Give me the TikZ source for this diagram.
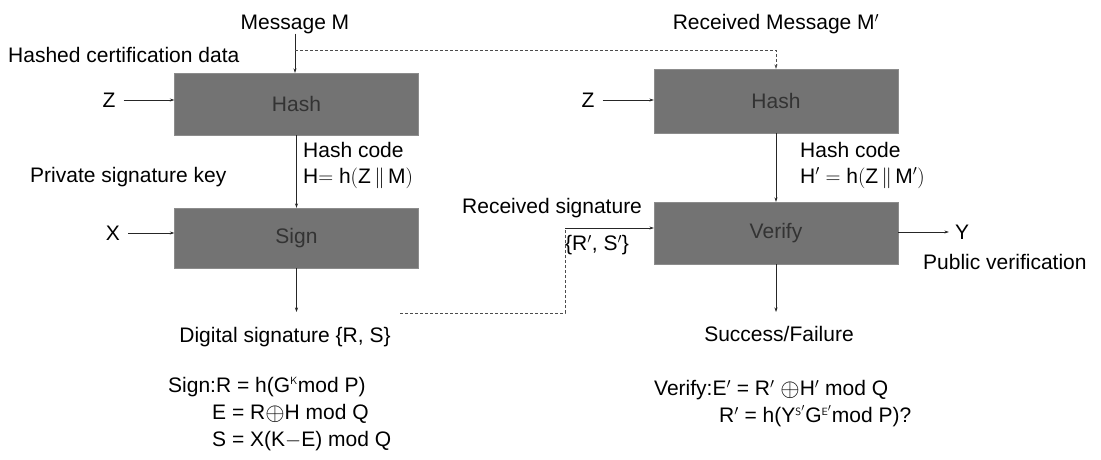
\documentclass[tikz,border=0pt]{standalone}
\usepackage{fontspec}
\setmainfont{Liberation Sans}
\usetikzlibrary{arrows.meta}
\newcommand{\xorop}{\raisebox{-0.1ex}{\scalebox{1.2}{$\oplus$}}}
\begin{document}
\begin{tikzpicture}[x=1pt,y=-1pt,
  every node/.style={font=\fontsize{21}{24}\selectfont, inner sep=0pt},
  box/.style={fill=black!55, draw=black!45, line width=0.4pt, minimum width=244pt, text=black!80},
  arr/.style={-{Stealth[length=4.5pt,width=3pt]}, line width=0.6pt, black!85},
  dashline/.style={dash pattern=on 3pt off 2pt, line width=0.5pt, black!70},
  lbl/.style={anchor=west}]
\useasboundingbox (0,0) rectangle (1101,460);

% ---- left column ----
\node (msg) at (295,24) {Message M};
\node[lbl] (hcd) at (8,55) {Hashed certification data};
\node[box, minimum height=62pt] (hash1) at (296.5,104) {Hash};
\node (z1) at (109,100) {Z};
\node[lbl] (hc1) at (303,150) {Hash code};
\node[lbl] (hf1) at (303,178) {H$=\mathrm{h}(\mathrm{Z}\,\|\,\mathrm{M})$};
\node[lbl] (psk) at (30,177) {Private signature key};
\node[box, minimum height=60pt] (sign) at (296.5,238) {Sign};
\node (x1) at (113,233) {X};
\coordinate (sigout) at (296.5,312);
\node (dsig) at (285,337) {Digital signature \{R, S\}};
\node[lbl] (sf1) at (168,387) {Sign:R = h(G$^{\scriptscriptstyle\mathsf{K}}$mod P)};
\node[lbl] (sf2) at (212,414) {E = R\xorop H mod Q};
\node[lbl] (sf3) at (212,441) {S = X(K$-$E) mod Q};

% ---- right column ----
\node (rmsg) at (776,24) {Received Message M$'$};
\node[box, minimum height=64pt] (hash2) at (776,101) {Hash};
\node (z2) at (588,100) {Z};
\node[lbl] (hc2) at (800,150) {Hash code};
\node[lbl] (hf2) at (800,178) {H$'$ $=\mathrm{h}(\mathrm{Z}\,\|\,\mathrm{M}')$};
\node[lbl] (rsig) at (462,208) {Received signature};
\node[lbl] (rs) at (565,245) {\{R$'$, S$'$\}};
\node[box, minimum height=62pt] (verify) at (776,233) {Verify};
\node (y1) at (962,232) {Y};
\node[lbl] (pv) at (923,262) {Public verification};
\coordinate (vout) at (776,312);
\node (sf) at (779,334) {Success/Failure};
\node[lbl] (vf1) at (654,390) {Verify:E$'$ = R$'$ \xorop H$'$ mod Q};
\node[lbl] (vf2) at (719,416) {R$'$ = h(Y$^{\scriptscriptstyle\mathsf{S}'}$G$^{\scriptscriptstyle\mathsf{E}'}$mod P)?};

% ---- connectors ----
\coordinate (split) at (295,50);
\draw[arr] (msg.south) -- (msg.south |- hash1.north);
\draw[dashline, -{Stealth[length=4.5pt,width=3pt]}] (split) -| (hash2.north);
\draw[arr] (z1.east) ++(8,0) -- (z1.east -| hash1.west);
\draw[arr] (hash1.south) -- (sign.north);
\draw[arr] (x1.east) ++(8,0) -- (x1.east -| sign.west);
\draw[arr] (sign.south) -- (sigout);

\coordinate (ds) at (400,313);
\coordinate (dc) at (565,313);
\coordinate (dup) at (565,228);
\draw[dashline] (ds) -- (dc) -- (dup);
\draw[arr] (dup) -- (dup -| verify.west);

\draw[arr] (z2.east) ++(8,0) -- (z2.east -| hash2.west);
\draw[arr] (hash2.south) -- (verify.north);
\draw[arr] (verify.east |- y1) -- ([xshift=-6pt]y1.west);
\draw[arr] (verify.south) -- (vout);
\end{tikzpicture}
\end{document}
